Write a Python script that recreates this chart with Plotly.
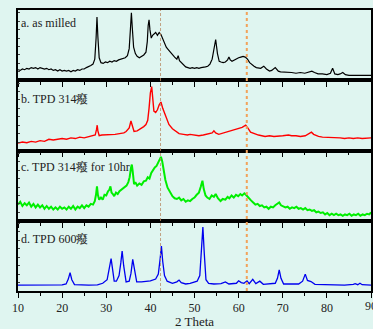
import plotly.graph_objects as go
from plotly.subplots import make_subplots

# ---- data (2 Theta, relative intensity 0-100 within each panel) ----
a_x = [10, 10.5, 11, 11.5, 12, 12.5, 13, 13.5, 14, 14.5, 15, 15.5, 16, 16.5, 17, 17.5, 18, 18.5, 19, 19.5,
       20, 20.5, 21, 21.5, 22, 22.5, 23, 23.5, 24, 24.5, 25, 25.5, 26, 26.5, 27, 27.4, 27.7, 27.9, 28.1, 28.4,
       28.8, 29.3, 29.8, 30.3, 30.8, 31.3, 31.8, 32.3, 32.8, 33.3, 33.8, 34.3, 34.8, 35.2, 35.5, 35.7, 35.9,
       36.2, 36.6, 37, 37.5, 38, 38.5, 39, 39.3, 39.5, 39.7, 39.9, 40.2, 40.5, 40.8, 41.2, 41.6, 42, 42.4,
       42.8, 43.2, 43.6, 44, 44.5, 45, 45.5, 46, 46.3, 46.6, 47, 47.5, 48, 48.5, 49, 49.5, 50, 50.5, 51, 51.5,
       52, 52.5, 53, 53.5, 54, 54.4, 54.8, 55.2, 55.6, 56, 56.5, 57, 57.5, 57.8, 58.1, 58.5, 59, 59.5, 60,
       60.5, 61, 61.5, 62, 62.5, 63, 63.5, 64, 64.5, 65, 65.7, 66.3, 67, 67.5, 68.3, 69, 69.5, 70, 71, 72, 73,
       74, 75, 76, 76.6, 77.2, 78, 79, 80, 80.8, 81.3, 81.8, 82.5, 83, 83.6, 84.2, 85, 86, 87, 88, 89, 90]
a_y = [15, 14, 16, 15, 17, 16, 18, 17, 18, 16, 18, 17, 16, 17, 15, 16, 14, 15, 13, 15,
       13, 14, 13, 14, 12, 14, 13, 15, 14, 16, 16, 18, 19, 21, 23, 30, 60, 90, 62, 32,
       25, 24, 26, 25, 27, 26, 28, 27, 29, 30, 31, 32, 35, 45, 75, 96, 75,
       47, 38, 34, 32, 34, 36, 40, 55, 78, 86, 72, 60, 64, 66, 68, 64, 68, 65,
       58, 52, 47, 44, 40, 37, 33, 30, 35, 28, 25, 22, 19, 18, 17, 18, 17, 18, 17, 18,
       18, 19, 20, 23, 30, 45, 58, 38, 27, 26, 25, 26, 29, 33, 29, 27, 29, 31, 32,
       33, 34, 33, 30, 25, 22, 20, 18, 18, 17, 20, 16, 13, 14, 18, 13, 12, 12, 11, 11, 10,
       11, 10, 12, 13, 11, 9, 9, 8, 10, 17, 9, 8, 9, 11, 8, 7, 7, 7, 6, 7, 7]

b_x = [10, 11, 12, 13, 14, 15, 16, 17, 18, 19, 20, 21, 22, 23, 24, 25, 26, 27, 27.5, 27.8, 27.95, 28.1,
       28.4, 29, 30, 31, 32, 33, 34, 34.5, 35.2, 35.6, 35.9, 36.3, 37, 37.5, 38, 38.5, 39, 39.4, 39.7, 40,
       40.3, 40.55, 40.8, 41.2, 41.6, 42, 42.4, 42.8, 43.1, 43.6, 44.2, 45, 45.8, 46.5, 47.5, 48.4, 49, 50,
       51, 52, 53, 54, 54.4, 54.8, 55.5, 56, 57, 58, 59, 60, 60.8, 61.6, 62, 62.7, 63.5, 64.5, 66, 67, 68,
       69, 70, 71.3, 72, 73, 74, 75.1, 75.8, 76.5, 77, 78.1, 79, 80, 81, 82, 83, 84, 85, 86, 87, 88, 89, 90]
b_y = [10.5, 12, 11, 13, 12, 14, 13, 16, 15, 16, 17, 16, 18, 17, 19, 18, 20, 21, 22, 30, 36, 28,
       21, 22, 22, 23, 23, 24, 25, 27, 32, 42, 34, 27, 28, 30, 31, 34, 37, 43, 60, 82,
       91, 75, 56, 54, 58, 65, 69, 60, 55, 45, 37, 31, 27, 24, 23, 22, 23, 22,
       21, 22, 23, 25, 28, 25, 23, 24, 26, 27, 29, 31, 33, 36, 33, 26, 24, 22, 20, 21, 20,
       21, 21, 22, 21, 21, 20, 21, 24, 26, 23, 20, 19, 19, 18, 18, 18, 17, 18, 17, 18, 17, 18, 18]

c_x = [10, 10.5, 11, 11.5, 12, 12.5, 13, 13.5, 14, 14.5, 15, 15.5, 16, 16.5, 17, 17.5, 18, 18.5, 19, 19.5,
       20, 20.5, 21, 21.5, 22, 22.5, 23, 23.5, 24, 24.5, 25, 25.5, 26, 26.5, 27, 27.4, 27.7, 27.9, 28.1,
       28.4, 28.8, 29.2, 29.6, 30, 30.4, 30.7, 30.95, 31.2, 31.5, 31.8, 32.2, 32.6, 33, 33.4, 33.8, 34.2,
       34.6, 35, 35.3, 35.6, 35.8, 36, 36.3, 36.6, 37, 37.5, 38, 38.5, 39, 39.4, 39.8, 40.2, 40.6, 41,
       41.4, 41.8, 42.1, 42.4, 42.7, 43, 43.4, 43.9, 44.3, 44.7, 45, 45.5, 46, 46.5, 47, 47.5, 48, 48.5,
       49, 49.5, 50, 50.5, 51, 51.4, 51.8, 52.1, 52.5, 52.9, 53.4, 53.9, 54.4, 54.8, 55.3, 55.9, 56.4, 57,
       57.5, 57.9, 58.4, 58.9, 59.4, 59.9, 60.4, 60.8, 61.3, 61.8, 62.3, 62.8, 63.3, 63.8, 64.3, 64.8,
       65.3, 65.8, 66.3, 66.8, 67.3, 67.8, 68.3, 68.8, 69.2, 69.6, 70.1, 70.6, 71.1, 71.6, 72.1, 72.6,
       73.1, 73.6, 74.1, 74.6, 75.1, 75.6, 76.1, 76.6, 77.1, 77.6, 78.1, 78.6, 79.1, 79.6, 80.1, 80.6,
       81.1, 81.6, 82.1, 82.6, 83.1, 83.6, 84.1, 84.6, 85.1, 85.6, 86.1, 86.6, 87.1, 87.6, 88.1, 88.6,
       89.1, 89.6, 90]
c_y = [23, 27, 21, 25, 22, 26, 20, 24, 19, 23, 19, 22, 17, 21, 17, 20, 16, 19, 16, 20,
       17, 19, 16, 20, 17, 21, 16, 20, 18, 22, 18, 22, 20, 24, 23, 28, 38, 49, 37,
       30, 33, 30, 37, 36, 42, 44, 49, 40, 38, 35, 40, 38, 42, 44, 46, 48,
       50, 55, 62, 75, 80, 70, 52, 55, 50, 53, 51, 56, 57, 62, 60, 68, 72, 76,
       78, 84, 88, 91, 84, 73, 58, 47, 42, 37, 35, 32, 31, 33, 29, 31, 27, 29,
       28, 31, 33, 37, 40, 48, 57, 45, 36, 33, 31, 36, 34, 38, 32, 28, 31, 30,
       34, 32, 36, 33, 37, 35, 38, 36, 39, 36, 32, 29, 26, 23, 24, 21,
       22, 19, 20, 17, 20, 19, 22, 24, 26, 22, 21, 19, 20, 17, 19, 18,
       20, 17, 18, 16, 18, 15, 16, 14, 15, 12, 13, 11, 12, 9, 11, 8,
       10, 8, 10, 8, 9, 7, 9, 8, 10, 7, 9, 8, 10, 7, 9, 8,
       10, 9, 12]

d_x = [10, 12, 14, 16, 18, 20, 20.9, 21.4, 21.8, 22.2, 22.8, 24, 26, 28, 29.2, 30.2, 30.7, 31.1, 31.5,
       31.8, 32.3, 32.9, 33.3, 33.6, 33.95, 34.5, 35.2, 35.6, 36, 36.4, 36.9, 38, 39, 40, 41.2, 41.8, 42.2,
       42.5, 42.8, 43.2, 43.8, 45, 46, 46.5, 47, 48, 49, 49.9, 50.6, 51.2, 51.6, 51.9, 52.2, 52.6, 53.2,
       54.4, 56, 57, 57.8, 59.5, 60, 60.6, 61.2, 61.9, 62.4, 63.2, 63.9, 64.8, 65.6, 67, 68.3, 68.8, 69.2,
       69.6, 70.2, 72, 73.6, 74.5, 75.1, 75.6, 76.4, 77.3, 79, 82, 84, 86, 86.4, 87, 87.5, 88, 90]
d_y = [8.5, 8.5, 8.3, 8.5, 8.5, 8.7, 10, 17, 26, 16, 9, 8.5, 8.5, 8.7, 11, 16, 30, 46, 28,
       14, 14, 22, 40, 57, 36, 13, 14, 25, 45, 28, 13, 13, 13.5, 14.5, 17, 24, 45,
       64, 42, 22, 14, 11, 13, 15.6, 12, 10, 11, 13, 14, 22, 60, 91, 55, 16, 11,
       10, 10.5, 13, 10, 11, 14.5, 12, 11, 14.5, 10.5, 16.5, 10.5, 14, 9.5, 10, 11, 18, 30,
       18, 10, 10, 10, 14, 24, 15, 13.5, 9.5, 9, 8.5, 8.5, 9.5, 10.5, 9, 11, 9, 8.5]

labels = ["a. as milled", "b. TPD 314癈", "c. TPD 314癈 for 10hr", "d. TPD 600癈"]
colors = ["#000000", "#ff0000", "#00ee00", "#0000ee"]
ref_lines = [42.3, 61.85]
x_ticks = [10, 20, 30, 40, 50, 60, 70, 80, 90]

SERIF = "Liberation Serif, Times New Roman, Times, serif"
series = [(a_x, a_y), (b_x, b_y), (c_x, c_y), (d_x, d_y)]

fig = make_subplots(rows=4, cols=1, shared_xaxes=True, vertical_spacing=0)
widths = [1.2, 1.4, 2.0, 1.3]
for i, (xs, ys) in enumerate(series):
    fig.add_trace(go.Scatter(x=xs, y=ys, mode="lines",
                             line=dict(color=colors[i], width=widths[i]),
                             showlegend=False), row=i + 1, col=1)

label_y = [0.82, 0.73, 0.77, 0.74]
for i, t in enumerate(labels):
    yref = "y domain" if i == 0 else f"y{i+1} domain"
    fig.add_annotation(text=t, x=0.004, xref="paper", xanchor="left",
                       y=label_y[i], yref=yref, yanchor="middle", showarrow=False,
                       font=dict(family=SERIF, size=12, color="#222222"))

# the last tick label runs past the right edge; draw it as text so it is clipped like the original
fig.add_annotation(text=str(x_ticks[-1]), x=x_ticks[-1], xref="x4", xanchor="center",
                   y=0, yref="y4 domain", yanchor="top", yshift=-6, showarrow=False,
                   font=dict(family=SERIF, size=12, color="#222222"))

fig.add_shape(type="line", x0=ref_lines[0], x1=ref_lines[0], y0=0, y1=1, xref="x", yref="paper",
              line=dict(color="#b98a66", width=0.8, dash="3px,2px"))
fig.add_shape(type="line", x0=ref_lines[1], x1=ref_lines[1], y0=0, y1=1, xref="x", yref="paper",
              line=dict(color="#f2a25a", width=2, dash="dot"))

fig.update_xaxes(range=[10, 90], tickmode="array", tickvals=x_ticks, ticks="outside", ticklen=5, tickwidth=1,
                 tickcolor="black", minor=dict(dtick=5, ticks="outside", ticklen=3, tickcolor="black"),
                 showline=True, mirror=True, linecolor="black", linewidth=1.5, showgrid=False,
                 zeroline=False, tickfont=dict(family=SERIF, size=12, color="#222222"))
fig.update_xaxes(title=dict(text="2 Theta", font=dict(family=SERIF, size=13, color="#222222"),
                            standoff=2), row=4, col=1)
fig.update_yaxes(range=[0, 100], showticklabels=False, ticks="inside", ticklen=2, dtick=12,
                 tickcolor="#444444", showline=True, mirror=True, linecolor="black", linewidth=1.5,
                 showgrid=False, zeroline=False)

fig.update_layout(width=373, height=329, margin=dict(l=18, r=0, t=10, b=38),
                  paper_bgcolor="#dff5f0", plot_bgcolor="#dff5f0",
                  font=dict(family=SERIF))

fig.write_html("out.html")
